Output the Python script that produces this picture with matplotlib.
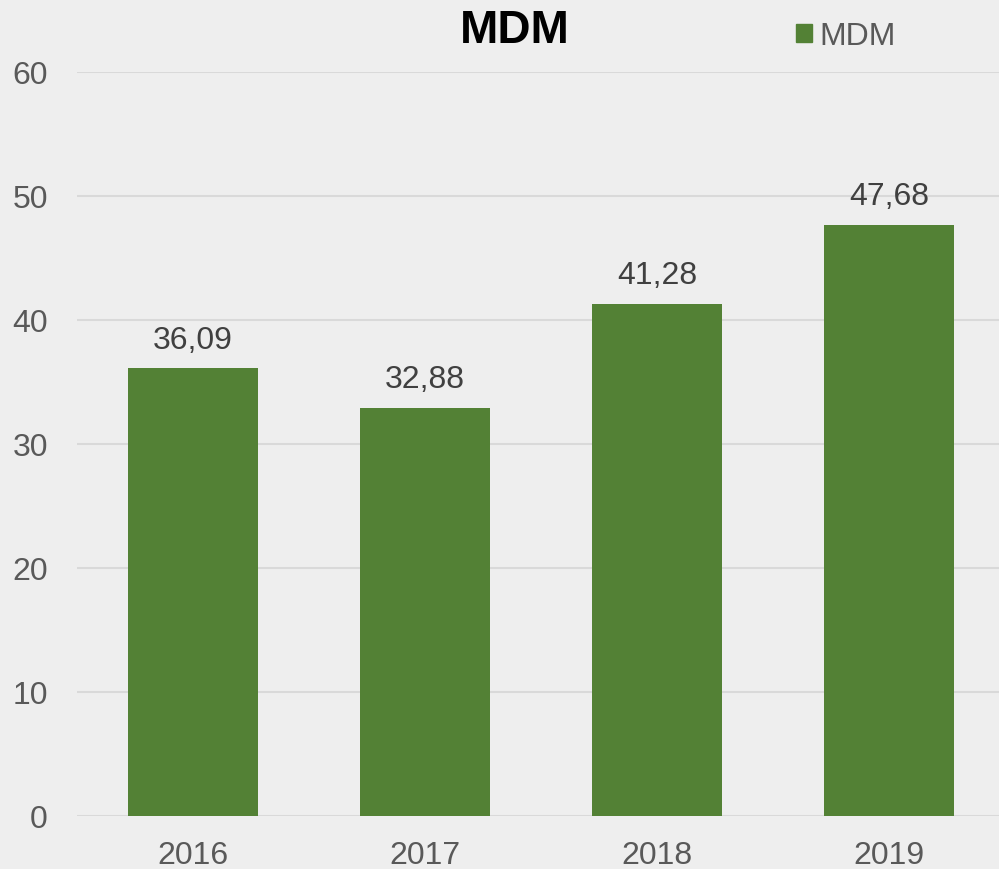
import matplotlib.pyplot as plt
from matplotlib.patches import Patch

years = ["2016", "2017", "2018", "2019"]
values = [36.09, 32.88, 41.28, 47.68]
series_name = "MDM"

bar_color = "#538135"
bg_color = "#eeeeee"

plt.rcParams['font.family'] = ['Liberation Sans', 'DejaVu Sans']

fig = plt.figure(figsize=(9.99, 8.70), dpi=100)
fig.patch.set_facecolor(bg_color)
ax = fig.add_axes([77 / 999, 1 - 817 / 870, 1 - 77 / 999, (817 - 73) / 870])
ax.set_facecolor(bg_color)

x = range(len(years))
bars = ax.bar(x, values, width=0.56, color=bar_color, zorder=3)

# étiquettes de valeurs au format français
for rect, v in zip(bars, values):
    ax.annotate(f"{v:.2f}".replace(".", ","),
                (rect.get_x() + rect.get_width() / 2, v),
                xytext=(0, 10), textcoords="offset points",
                ha="center", va="bottom", fontsize=23, color="#404040")

ax.set_ylim(0, 60)
ax.set_xlim(-0.5, 3.474)
ax.set_yticks(range(0, 61, 10))
ax.set_xticks(list(x))
ax.set_xticklabels(years)
ax.tick_params(axis="both", length=0, labelsize=23, labelcolor="#595959")
ax.tick_params(axis="y", pad=21)
ax.tick_params(axis="x", pad=17)
ax.yaxis.grid(True, color="#d9d9d9", linewidth=1.5, zorder=0)
for s in ax.spines.values():
    s.set_visible(False)

fig.text(515 / 999, 1 - 31 / 870, "MDM", ha="center", va="center",
         fontsize=33, fontweight="bold", color="black")

leg = fig.legend(handles=[Patch(color=bar_color, label=series_name)],
                 loc="center left", bbox_to_anchor=(767 / 999, 1 - 37 / 870),
                 frameon=False, fontsize=23, handlelength=0.5, handleheight=0.5,
                 handletextpad=0.25, labelcolor="#595959")

fig.savefig("out.png", dpi=100, facecolor=bg_color)
